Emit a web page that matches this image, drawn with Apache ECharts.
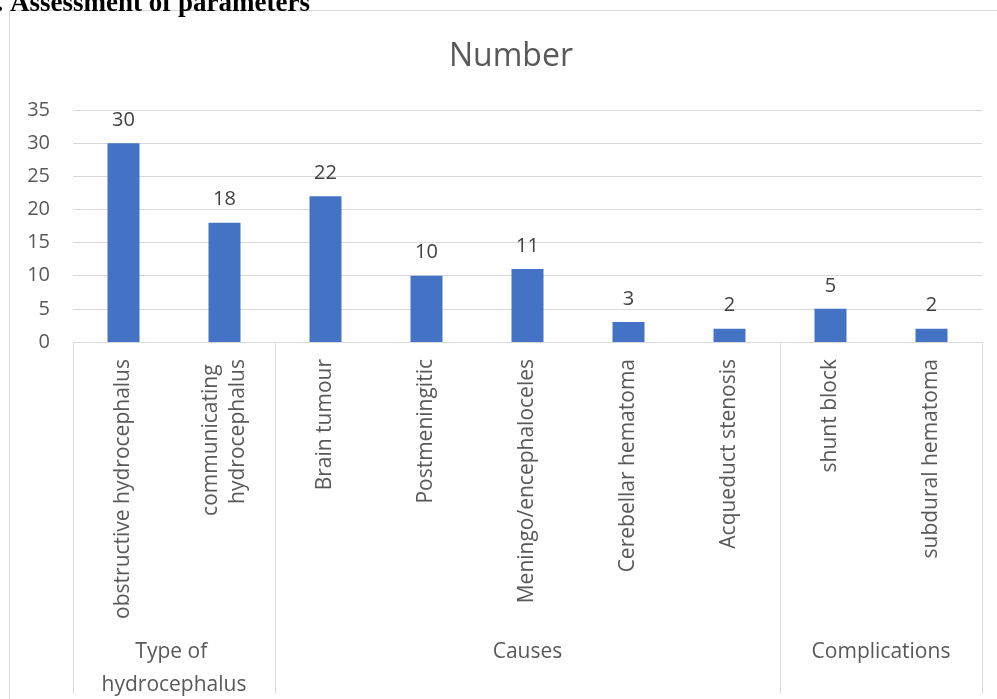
<!DOCTYPE html>
<html>
<head>
<meta charset="utf-8">
<script src="https://cdn.jsdelivr.net/npm/echarts@6/dist/echarts.min.js"></script>
<style>
html,body{margin:0;padding:0;background:#fff;}
#chart{width:997px;height:699px;}
</style>
</head>
<body>
<div id="chart"></div>
<script>
const categories = ["obstructive hydrocephalus","communicating hydrocephalus","Brain tumour","Postmeningitic","Meningo/encephaloceles","Cerebellar hematoma","Acqueduct stenosis","shunt block","subdural hematoma"];
const values = [30,18,22,10,11,3,2,5,2];
const groupNames = ["Type of hydrocephalus","Causes","Complications"];
const groupSizes = [2,5,2];
const yTicks = [0,5,10,15,20,25,30,35];

// Build half-category slots for the group axis (boundaryGap false, 2 slots per category)
const nSlots = categories.length * 2 + 1;
const groupSlots = new Array(nSlots).fill('');
const labelIdx = new Set();
const sepIdx = new Set([0]);
let acc = 0;
groupNames.forEach((g, i) => {
  const c = acc * 2 + groupSizes[i];
  groupSlots[c] = g;
  labelIdx.add(c);
  acc += groupSizes[i];
  sepIdx.add(acc * 2);
});

const FONT = '"Open Sans", sans-serif';
const chart = echarts.init(document.getElementById('chart'));
chart.setOption({
  animation: false,
  backgroundColor: '#ffffff',
  title: {
    text: 'Number',
    left: 444,
    top: 36,
    textStyle: {fontFamily: FONT, fontSize: 32, fontWeight: 'normal', color: '#595959'}
  },
  graphic: [
    {type: 'line', shape: {x1: 9.5, y1: 10.5, x2: 997, y2: 10.5}, style: {stroke: '#d9d9d9', lineWidth: 1}},
    {type: 'line', shape: {x1: 9.5, y1: 10.5, x2: 9.5, y2: 699}, style: {stroke: '#d9d9d9', lineWidth: 1}},
    {type: 'text', x: -17, y: -9, style: {text: '1. Assessment of parameters', font: 'bold 27px "Liberation Serif", serif', fill: '#000', verticalAlign: 'top'}}
  ],
  grid: {left: 73, right: 15, top: 110, bottom: 357, containLabel: false, outerBoundsMode: 'none'},
  xAxis: [
    {
      type: 'category',
      data: categories,
      position: 'bottom',
      axisLine: {show: true, lineStyle: {color: '#d9d9d9', width: 1}},
      axisTick: {show: false},
      axisLabel: {
        rotate: 90,
        margin: 17,
        interval: 0,
        color: '#595959',
        fontFamily: FONT,
        fontSize: 21,
        lineHeight: 27,
        width: 275,
        overflow: 'break'
      }
    },
    {
      type: 'category',
      data: groupSlots,
      position: 'bottom',
      boundaryGap: false,
      axisLine: {show: false},
      axisTick: {
        show: true,
        length: 352,
        interval: (i) => sepIdx.has(i),
        lineStyle: {color: '#d9d9d9', width: 1}
      },
      axisLabel: {
        interval: (i) => labelIdx.has(i),
        margin: 294,
        color: '#595959',
        fontFamily: FONT,
        fontSize: 21,
        lineHeight: 33,
        width: 165,
        overflow: 'break'
      },
      splitLine: {show: false}
    }
  ],
  yAxis: {
    type: 'value',
    min: yTicks[0],
    max: yTicks[yTicks.length - 1],
    interval: 5,
    axisLine: {show: false},
    axisTick: {show: false},
    axisLabel: {color: '#595959', fontFamily: FONT, fontSize: 20, margin: 23},
    splitLine: {lineStyle: {color: '#d9d9d9', width: 1}}
  },
  series: [{
    type: 'bar',
    data: values,
    barWidth: 32,
    itemStyle: {color: '#4472C4'},
    label: {
      show: true,
      position: 'top',
      distance: 13,
      color: '#404040',
      fontFamily: FONT,
      fontSize: 20
    }
  }]
});
</script>
</body>
</html>
